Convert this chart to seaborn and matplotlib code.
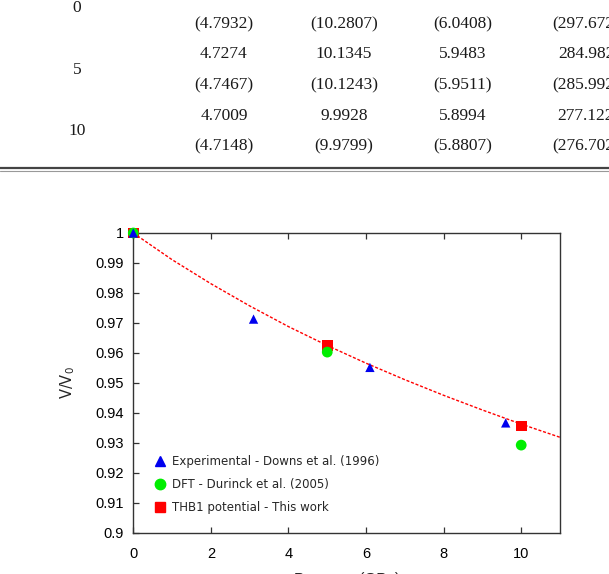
import numpy as np
import pandas as pd
import matplotlib
matplotlib.use('Agg')
import matplotlib.pyplot as plt
from matplotlib.lines import Line2D
import seaborn as sns

# table fragment above the chart (rows cut by the page edge)
tbl_pressures = ['0', '5', '10']
tbl_rows = [
    ['(4.7932)', '(10.2807)', '(6.0408)', '(297.672)'],
    ['4.7274', '10.1345', '5.9483', '284.982'],
    ['(4.7467)', '(10.1243)', '(5.9511)', '(285.992)'],
    ['4.7009', '9.9928', '5.8994', '277.122'],
    ['(4.7148)', '(9.9799)', '(5.8807)', '(276.702)'],
]

# V/V0 vs pressure (GPa)
p_exp = [0, 3.1, 6.1, 9.6]
v_exp = [1.0, 0.9713, 0.9552, 0.9367]
p_dft = [0, 5, 10]
v_dft = [1.0, 0.9603, 0.9293]
p_thb = [0, 5, 10]
v_thb = [1.0, 0.9624, 0.9357]
# fitted curve
p_fit = [0, 1, 2, 3, 4, 5, 6, 7, 8, 9, 10, 11]
v_fit = [1.0, 0.9911, 0.9831, 0.9757, 0.9688, 0.9625, 0.9566, 0.9511, 0.9459, 0.9410, 0.9363, 0.9319]

labels = ['Experimental - Downs et al. (1996)', 'DFT - Durinck et al. (2005)', 'THB1 potential - This work']

sns.set_style('ticks')
W, H = 609, 574
fig = plt.figure(figsize=(W / 100, H / 100), dpi=100)

# --- table text ---
col_x = [224, 344, 463, 586]
row_y = [24, 54.5, 85, 115.5, 146]
for r, row in enumerate(tbl_rows):
    for c, s in enumerate(row):
        fig.text(col_x[c] / W, 1 - row_y[r] / H, s, ha='center', va='center',
                 family='Liberation Serif', fontsize=12.5, color='#1a1a1a')
for s, y in zip(tbl_pressures, [8, 70, 131]):
    fig.text(77 / W, 1 - y / H, s, ha='center', va='center',
             family='Liberation Serif', fontsize=12.5, color='#1a1a1a')
fig.add_artist(Line2D([0, 1], [1 - 168.3 / H] * 2, color='#444444', lw=1.6))
fig.add_artist(Line2D([0, 1], [1 - 171.2 / H] * 2, color='#999999', lw=0.8))

# --- chart ---
ax = fig.add_axes([133.3 / W, 1 - 533 / H, (560 - 133.3) / W, 300 / H])

df_fit = pd.DataFrame({'P': p_fit, 'V': v_fit})
sns.lineplot(data=df_fit, x='P', y='V', ax=ax, color='red', lw=1.0,
             dashes=False, zorder=2)
ax.lines[-1].set_dashes([2.2, 1.3])

sns.scatterplot(x=p_thb, y=v_thb, ax=ax, color='red', marker='s', s=60,
                edgecolor='none', zorder=3, clip_on=False)
sns.scatterplot(x=p_dft, y=v_dft, ax=ax, color='#00ee00', marker='o', s=60,
                edgecolor='none', zorder=4, clip_on=False)
sns.scatterplot(x=p_exp, y=v_exp, ax=ax, color='#0000ee', marker='^', s=45,
                edgecolor='none', zorder=5, clip_on=False)

ax.set_xlim(0, 11)
ax.set_ylim(0.9, 1.0)
ax.set_xticks([0, 2, 4, 6, 8, 10])
ax.set_yticks(np.arange(0.9, 1.0001, 0.01))
ax.set_yticklabels(['0.9', '0.91', '0.92', '0.93', '0.94', '0.95', '0.96', '0.97', '0.98', '0.99', '1'])
for sp in ax.spines.values():
    sp.set_visible(True)
    sp.set_color('#333333')
    sp.set_linewidth(1.0)
ax.tick_params(axis='x', direction='in', length=4, width=0.9, top=True, pad=10,
               labelsize=10.5, colors='#333333', labelcolor='black')
ax.tick_params(axis='y', direction='in', length=4, width=0.9, right=False, pad=7,
               labelsize=10.5, colors='#333333', labelcolor='black')
for t in ax.get_xticklabels() + ax.get_yticklabels():
    t.set_family('Liberation Sans')

ax.set_xlabel('Pressure (GPa)', family='Liberation Sans', fontsize=11)
ax.xaxis.set_label_coords(0.5, -0.13)
ax.set_ylabel('V/V$_0$', family='DejaVu Sans', fontsize=10.5)
ax.yaxis.set_label_coords(-0.132, 0.5)

handles = [
    Line2D([], [], ls='none', marker='^', color='#0000ee', markersize=6.5),
    Line2D([], [], ls='none', marker='o', color='#00ee00', markersize=7.5),
    Line2D([], [], ls='none', marker='s', color='red', markersize=7),
]
ax.legend(handles, labels, loc='upper left', bbox_to_anchor=(0.049, 0.26),
          frameon=False, handlelength=1.0, handletextpad=0.5, labelspacing=0.86,
          prop={'family': 'DejaVu Sans', 'size': 8.5}, borderaxespad=0, borderpad=0)

fig.savefig('out.png', dpi=100)
